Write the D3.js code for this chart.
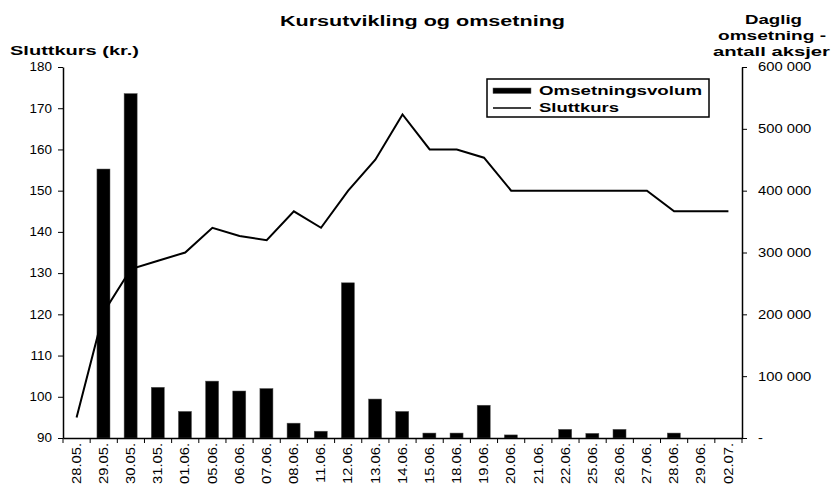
<!DOCTYPE html>
<html>
<head>
<meta charset="utf-8">
<script src="https://cdn.jsdelivr.net/npm/d3@7"></script>
<style>
body{margin:0;background:#fff;}
text{font-family:"Liberation Sans",Arial,sans-serif;fill:#000;}
</style>
</head>
<body>
<div id="chart"></div>
<script>
// data
var dates = ["28.05.","29.05.","30.05.","31.05.","01.06.","05.06.","06.06.","07.06.","08.06.","11.06.",
	"12.06.","13.06.","14.06.","15.06.","18.06.","19.06.","20.06.","21.06.","22.06.","25.06.",
	"26.06.","27.06.","28.06.","29.06.","02.07."];
var sluttkurs = [95,120.5,131,133,135,141,139,138,145,141,
	150,157.5,168.5,160,160,158,150,150,150,150,
	150,150,145,145,145];
var volum = [0,435000,557000,82000,43000,92000,76000,80000,24000,11000,
	251000,63000,43000,8000,8000,53000,5000,0,14000,7500,
	14000,0,8000,0,0];
var kursTicks = [90,100,110,120,130,140,150,160,170,180];
var volumTicks = [0,100000,200000,300000,400000,500000,600000];

var margin = {top:67,right:92,bottom:48,left:63};
var width = 834 - margin.left - margin.right;
var height = 486 - margin.top - margin.bottom;

var svg = d3.select("#chart").append("svg")
	.attr("width",834)
	.attr("height",486);

var g = svg.append("g")
	.attr("transform","translate("+margin.left+","+margin.top+")");

// scales
var x = d3.scaleBand().domain(dates).range([0,width]);
var y = d3.scaleLinear().domain([90,180]).range([height,0]);
var y2 = d3.scaleLinear().domain([0,600000]).range([height,0]);
var bw = x.bandwidth();

// bars (omsetning)
g.selectAll("rect.bar")
	.data(volum)
	.enter().append("rect")
	.attr("class","bar")
	.attr("x",function(d,i){ return x(dates[i]) + bw*0.25; })
	.attr("width",bw*0.48)
	.attr("y",function(d){ return y2(d); })
	.attr("height",function(d){ return height - y2(d); })
	.attr("fill","#000")
	.attr("stroke",function(d){ return d>0 ? "#555" : "none"; })
	.attr("stroke-width",0.5);

// line (sluttkurs)
g.append("path")
	.datum(sluttkurs)
	.attr("fill","none")
	.attr("stroke","#000")
	.attr("stroke-width",2)
	.attr("d",d3.line()
		.x(function(d,i){ return x(dates[i]) + bw/2; })
		.y(function(d){ return y(d); }));

// the text in the picture is a bit stretched sideways
var sxL = 1.12, sxR = 1.23, sxX = 1.23;

// left axis
var yAxis = g.append("g")
	.call(d3.axisLeft(y).tickValues(kursTicks).tickSize(5).tickSizeOuter(0).tickPadding(6));
yAxis.selectAll("text")
	.style("font-size","12px")
	.attr("x",-11/sxL)
	.attr("transform","scale("+sxL+",1)");

// right axis
var fmt = function(d){ return d===0 ? "-" : d3.format(",")(d).replace(/,/g," "); };
var y2Axis = g.append("g")
	.attr("transform","translate("+width+",0)")
	.call(d3.axisRight(y2).tickValues(volumTicks).tickFormat(fmt).tickSize(5).tickSizeOuter(0).tickPadding(11));
y2Axis.selectAll("text")
	.style("font-size","12px")
	.attr("x",16/sxR)
	.attr("transform","scale("+sxR+",1)");

// x axis
var xAxis = g.append("g")
	.attr("transform","translate(0,"+height+")")
	.call(d3.axisBottom(x).tickSize(0).tickSizeOuter(0));
xAxis.selectAll("text")
	.attr("transform","rotate(-90) scale("+sxX+",1)")
	.attr("x",-5/sxX)
	.attr("y",0)
	.attr("dy","0.35em")
	.style("text-anchor","end")
	.style("font-size","12px");

// x ticks between the categories
xAxis.selectAll("line.sep")
	.data(dates.map(function(d){ return x(d); }).concat([width]))
	.enter().append("line")
	.attr("class","sep")
	.attr("x1",function(d){ return d; })
	.attr("x2",function(d){ return d; })
	.attr("y1",0)
	.attr("y2",5)
	.attr("stroke","#000");

svg.selectAll(".domain").attr("stroke-width",1.5);

// titles
function boldText(sel,size){
	return sel.attr("lengthAdjust","spacingAndGlyphs")
		.style("font-size",size).style("font-weight","bold");
}

boldText(svg.append("text")
	.attr("x",280).attr("y",26)
	.attr("textLength",285),"14px")
	.text("Kursutvikling og omsetning");

boldText(svg.append("text")
	.attr("x",10).attr("y",55)
	.attr("textLength",129),"12px")
	.text("Sluttkurs (kr.)");

var rightTitle = [
	{t:"Daglig",x:745,y:24,w:57},
	{t:"omsetning -",x:718,y:40,w:108},
	{t:"antall aksjer",x:713,y:56,w:117}
];
boldText(svg.selectAll("text.rt")
	.data(rightTitle)
	.enter().append("text")
	.attr("class","rt")
	.attr("x",function(d){ return d.x; })
	.attr("y",function(d){ return d.y; })
	.attr("textLength",function(d){ return d.w; }),"12px")
	.text(function(d){ return d.t; });

// legend
var legend = svg.append("g").attr("transform","translate(487,79)");
legend.append("rect")
	.attr("width",222).attr("height",38)
	.attr("fill","#fff").attr("stroke","#000").attr("stroke-width",1.5);
legend.append("rect")
	.attr("x",6).attr("y",9).attr("width",38).attr("height",5.5)
	.attr("fill","#000").attr("stroke","#555").attr("stroke-width",0.5);
legend.append("line")
	.attr("x1",6).attr("x2",44).attr("y1",29).attr("y2",29)
	.attr("stroke","#000").attr("stroke-width",1.5);
boldText(legend.append("text")
	.attr("x",52).attr("y",16)
	.attr("textLength",163),"12px")
	.text("Omsetningsvolum");
boldText(legend.append("text")
	.attr("x",52).attr("y",33)
	.attr("textLength",80),"12px")
	.text("Sluttkurs");
</script>
</body>
</html>
